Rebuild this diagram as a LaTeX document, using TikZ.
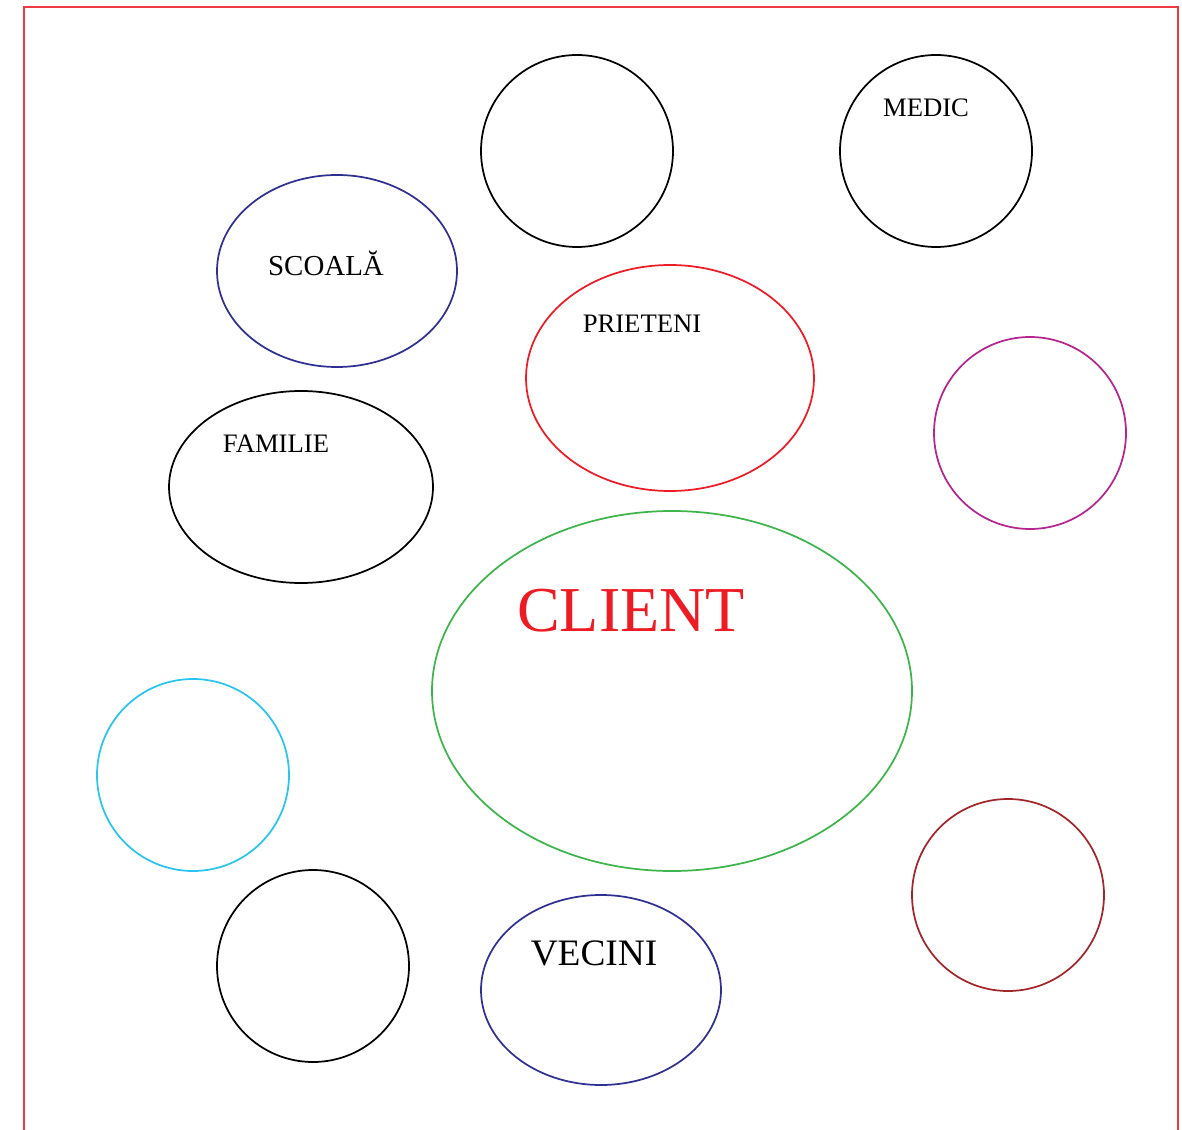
\documentclass[tikz,border=0pt]{standalone}
\usepackage{fontspec}
\setmainfont{Liberation Serif}
\definecolor{bordred}{HTML}{EE3A43}
\definecolor{dblue}{HTML}{2E3192}
\definecolor{cred}{HTML}{ED1C24}
\definecolor{cgreen}{HTML}{3DB54A}
\definecolor{cmag}{HTML}{B5258F}
\definecolor{ccyan}{HTML}{29C5F0}
\definecolor{cdred}{HTML}{A3262A}
\tikzset{
  ring/.style={draw, line width=1.3pt},
  lbl/.style={inner sep=0pt, anchor=center}
}
\begin{document}
\begin{tikzpicture}[x=0.75pt, y=-0.75pt]
\useasboundingbox (0,0) rectangle (1182,1130);
\coordinate (bl) at (24,1132);
\coordinate (tl) at (24,7);
\coordinate (tr) at (1178,7);
\coordinate (br) at (1178,1132);
\draw[bordred, line width=1.5pt] (bl) -- (tl) -- (tr) -- (br);
% shapes
\draw[ring] (577,151) ellipse [x radius=96, y radius=96];
\draw[ring] (936,151) ellipse [x radius=96, y radius=96];
\draw[ring, dblue] (337,271) ellipse [x radius=120, y radius=96];
\draw[ring, cred] (670,378) ellipse [x radius=144, y radius=113];
\draw[ring, cmag] (1030,433) ellipse [x radius=96, y radius=96];
\draw[ring] (301,487) ellipse [x radius=132, y radius=96];
\draw[ring, cgreen] (672,691) ellipse [x radius=240, y radius=180];
\draw[ring, ccyan] (193,775) ellipse [x radius=96, y radius=96];
\draw[ring, cdred] (1008,895) ellipse [x radius=96, y radius=96];
\draw[ring] (313,966) ellipse [x radius=96, y radius=96];
\draw[ring, dblue] (601,990) ellipse [x radius=120, y radius=95];
% labels
\node[lbl, font=\fontsize{20}{23}\selectfont] (medic) at (926,108) {MEDIC};
\node[lbl, font=\fontsize{21.7}{24}\selectfont] (scoala) at (326,263) {SCOALĂ};
\node[lbl, font=\fontsize{20}{23}\selectfont] (prieteni) at (642,324) {PRIETENI};
\node[lbl, font=\fontsize{20}{23}\selectfont] (familie) at (276,444) {FAMILIE};
\node[lbl, font=\fontsize{48}{54}\selectfont, text=cred] (client) at (631,611) {CLIENT};
\node[lbl, font=\fontsize{28}{31}\selectfont] (vecini) at (594,953) {VECINI};
\end{tikzpicture}
\end{document}
